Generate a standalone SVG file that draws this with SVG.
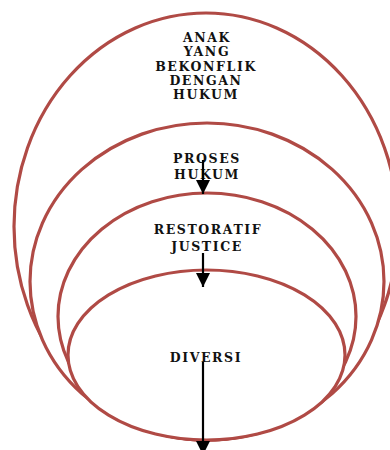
<svg xmlns="http://www.w3.org/2000/svg" width="390" height="450" viewBox="0 0 390 450">
<style>
.ring{fill:#fff;stroke:#b04a45;stroke-width:3.2}
.lbl{font-family:"DejaVu Serif","Liberation Serif",serif;font-weight:bold;font-size:12.5px;letter-spacing:1.6px;fill:#111;text-anchor:middle}
.con{stroke:#000;stroke-width:2.2;fill:none}
</style>
<defs>
<marker id="ah" markerWidth="14" markerHeight="14" refX="14" refY="7" orient="auto" markerUnits="userSpaceOnUse">
<path d="M0,0 L14,7 L0,14 Z" fill="#000"/>
</marker>
</defs>
<rect width="390" height="450" fill="#fff"/>
<g id="node-anak">
<ellipse class="ring" cx="206" cy="226.5" rx="192" ry="213.5"/>
<text class="lbl" x="207" y="42">ANAK</text>
<text class="lbl" x="207" y="56">YANG</text>
<text class="lbl" x="206" y="71">BEKONFLIK</text>
<text class="lbl" x="206" y="85">DENGAN</text>
<text class="lbl" x="206" y="99">HUKUM</text>
</g>
<g id="node-proses">
<ellipse class="ring" cx="207" cy="281.5" rx="177" ry="158.5"/>
<text class="lbl" x="207" y="163">PROSES</text>
<text class="lbl" x="207" y="179">HUKUM</text>
</g>
<g id="node-restoratif">
<ellipse class="ring" cx="207" cy="316.5" rx="149" ry="123.5"/>
<text class="lbl" x="208" y="234">RESTORATIF</text>
<text class="lbl" x="207" y="251">JUSTICE</text>
</g>
<g id="node-diversi">
<ellipse class="ring" cx="206.5" cy="355" rx="138.5" ry="85"/>
<text class="lbl" x="206" y="362">DIVERSI</text>
</g>
<g id="connectors">
<line class="con" x1="203" y1="160" x2="203" y2="194" marker-end="url(#ah)"/>
<line class="con" x1="203" y1="253" x2="203" y2="287" marker-end="url(#ah)"/>
<line class="con" x1="203" y1="362" x2="203" y2="455" marker-end="url(#ah)"/>
</g>
</svg>
